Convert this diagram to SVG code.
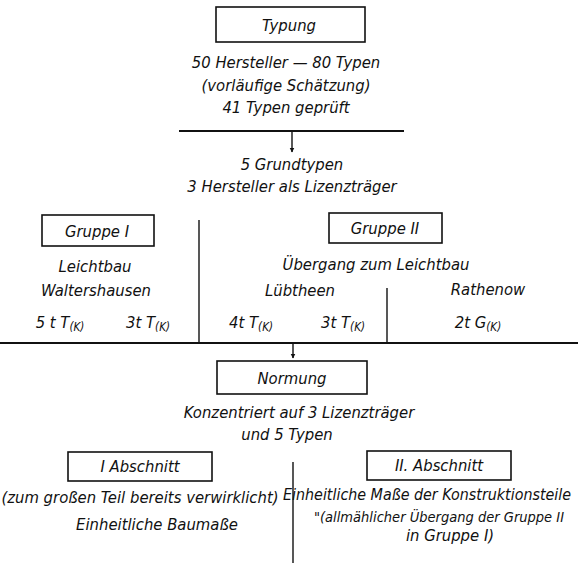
<svg xmlns="http://www.w3.org/2000/svg" width="578" height="579" viewBox="0 0 578 579">
<defs>
<marker id="ah" viewBox="0 0 10 10" refX="9" refY="5" markerWidth="5" markerHeight="6" orient="auto" markerUnits="userSpaceOnUse">
<path d="M0,0 L10,5 L0,10 Z" fill="#111"/>
</marker>
<style>
text{font-family:"DejaVu Sans Condensed","DejaVu Sans",sans-serif;font-style:italic;fill:#111;font-size:16.5px;text-anchor:middle}
.box{fill:none;stroke:#111;stroke-width:1.6}
.ln{stroke:#111;stroke-width:2;fill:none}
.vl{stroke:#111;stroke-width:1.4;fill:none}
.sub{font-size:11.5px}
.st{text-anchor:start;font-size:15.5px}
</style>
</defs>
<rect width="578" height="579" fill="#fff"/>
<g id="connectors">
<line class="ln" x1="179" y1="131" x2="404" y2="131"/>
<line class="vl" x1="292" y1="131" x2="292" y2="152" marker-end="url(#ah)"/>
<line class="vl" x1="199" y1="220" x2="199" y2="343"/>
<line class="vl" x1="387" y1="288" x2="387" y2="343"/>
<line class="ln" x1="0" y1="343" x2="578" y2="343"/>
<line class="vl" x1="293" y1="343" x2="293" y2="358" marker-end="url(#ah)"/>
<line class="vl" x1="293" y1="462" x2="293" y2="563"/>
</g>
<g id="typung">
<rect class="box" x="216" y="7" width="149" height="35"/>
<text x="289" y="31" font-size="17">Typung</text>
</g>
<g id="typung-info">
<text x="286" y="68">50 Hersteller — 80 Typen</text>
<text x="286" y="91">(vorläufige Schätzung)</text>
<text x="286" y="113">41 Typen geprüft</text>
</g>
<g id="grundtypen">
<text x="292" y="170">5 Grundtypen</text>
<text x="292" y="192">3 Hersteller als Lizenzträger</text>
</g>
<g id="gruppe1">
<rect class="box" x="42" y="215" width="112" height="31"/>
<text x="97" y="237">Gruppe I</text>
<text x="95" y="272">Leichtbau</text>
<text x="96" y="296">Waltershausen</text>
<text x="60" y="328">5 t T<tspan class="sub" dy="3">(K)</tspan></text>
<text x="148" y="328">3t T<tspan class="sub" dy="3">(K)</tspan></text>
</g>
<g id="gruppe2">
<rect class="box" x="329" y="213" width="113" height="30"/>
<text x="385" y="234">Gruppe II</text>
<text x="376" y="270">Übergang zum Leichtbau</text>
<text x="300" y="296">Lübtheen</text>
<text x="488" y="295">Rathenow</text>
<text x="251" y="328">4t T<tspan class="sub" dy="3">(K)</tspan></text>
<text x="343" y="328">3t T<tspan class="sub" dy="3">(K)</tspan></text>
<text x="478" y="328">2t G<tspan class="sub" dy="3">(K)</tspan></text>
</g>
<g id="normung">
<rect class="box" x="217" y="361" width="150" height="33"/>
<text x="292" y="384" font-size="17">Normung</text>
</g>
<g id="normung-info">
<text x="299" y="418">Konzentriert auf 3 Lizenzträger</text>
<text x="287" y="440">und 5 Typen</text>
</g>
<g id="abschnitt1">
<rect class="box" x="68" y="452" width="144" height="29"/>
<text x="140" y="472">I Abschnitt</text>
<text x="140" y="503">(zum großen Teil bereits verwirklicht)</text>
<text x="157" y="530">Einheitliche Baumaße</text>
</g>
<g id="abschnitt2">
<rect class="box" x="367" y="451" width="144" height="29"/>
<text x="439" y="471">II. Abschnitt</text>
<text class="st" x="283" y="500" textLength="288" lengthAdjust="spacingAndGlyphs">Einheitliche Maße der Konstruktionsteile</text>
<text class="st" x="314" y="522" font-size="14.5" style="font-size:14.5px" textLength="250" lengthAdjust="spacingAndGlyphs">"(allmählicher Übergang der Gruppe II</text>
<text x="450" y="541">in Gruppe I)</text>
</g>
</svg>
